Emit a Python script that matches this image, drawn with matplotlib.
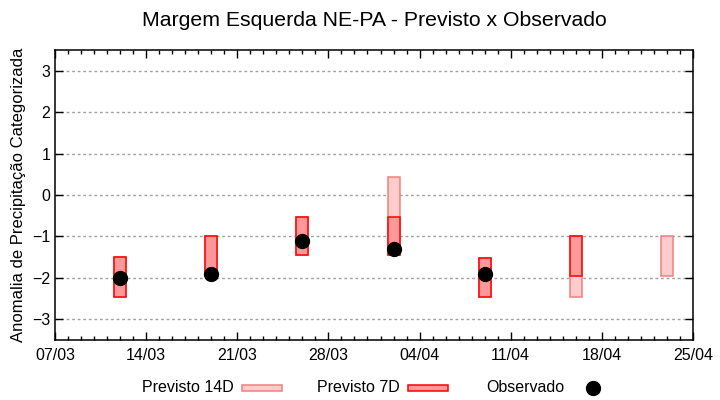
import pandas as pd
import matplotlib
matplotlib.use('Agg')
import matplotlib.pyplot as plt
import matplotlib.dates as mdates
from matplotlib.patches import Rectangle
from matplotlib.lines import Line2D

plt.rcParams['font.family'] = ['Liberation Sans', 'DejaVu Sans']

# datas das previsoes (semanais)
datas = pd.to_datetime(['2021-03-12', '2021-03-19', '2021-03-26', '2021-04-02',
                        '2021-04-09', '2021-04-16', '2021-04-23'])

# faixa prevista 14 dias (topo, base)
prev14_topo = [-1.5, -1.0, -0.52, 0.43, -1.52, -1.0, -1.0]
prev14_base = [-2.45, -1.9, -1.45, -1.45, -2.45, -2.45, -1.96]

# faixa prevista 7 dias (None = sem previsao)
prev7_topo = [-1.5, -1.0, -0.52, -0.52, -1.52, -1.0, None]
prev7_base = [-2.45, -1.9, -1.45, -1.45, -2.45, -1.96, None]

# observado
obs = [-2.0, -1.9, -1.1, -1.3, -1.9, None, None]

x_ini = pd.Timestamp('2021-03-07')
x_fim = pd.Timestamp('2021-04-25')
yticks = [-3, -2, -1, 0, 1, 2, 3]

cor14_fill, cor14_edge = '#ffcccc', '#f08080'
cor7_fill, cor7_edge = '#ff9999', '#ff0000'

fig = plt.figure(figsize=(7.2, 4.0), dpi=100)
ax = fig.add_axes([55 / 720, 1 - 340 / 400, 638 / 720, 290 / 400])

largura = 0.92
xs = mdates.date2num(datas)
for x, t, b in zip(xs, prev14_topo, prev14_base):
    ax.bar(x, t - b, bottom=b, width=largura, color=cor14_fill,
           edgecolor=cor14_edge, linewidth=1.1, zorder=2)
for x, t, b in zip(xs, prev7_topo, prev7_base):
    if t is None:
        continue
    ax.bar(x, t - b, bottom=b, width=largura, color=cor7_fill,
           edgecolor=cor7_edge, linewidth=1.1, zorder=3)
ox = [x for x, o in zip(xs, obs) if o is not None]
oy = [o for o in obs if o is not None]
ax.plot(ox, oy, 'o', color='black', markersize=10, zorder=4, linestyle='none')

ax.set_xlim(mdates.date2num(x_ini), mdates.date2num(x_fim))
ax.set_ylim(-3.5, 3.5)
ax.set_yticks(yticks)
ax.set_xticks(mdates.date2num(pd.date_range(x_ini, x_fim, freq='7D')))
ax.xaxis.set_major_formatter(mdates.DateFormatter('%d/%m'))
ax.xaxis.set_minor_locator(mdates.DayLocator())
ax.yaxis.grid(True, linestyle=(0, (2, 2)), color='#a0a0a0', linewidth=1)
ax.set_axisbelow(True)
ax.tick_params(axis='both', which='both', direction='in', top=True, right=True,
               labelsize=11.5, colors='black')
ax.tick_params(axis='both', which='major', length=6, width=1)
ax.tick_params(axis='x', which='minor', length=3, width=1)
ax.tick_params(axis='x', which='major', pad=6)
for s in ax.spines.values():
    s.set_linewidth(1.1)

ax.set_ylabel('Anomalia de Precipitação Categorizada', fontsize=12, labelpad=4)
fig.text(374 / 720, 1 - 20 / 400, 'Margem Esquerda NE-PA - Previsto x Observado',
         ha='center', va='center', fontsize=15.3)

# legenda manual estilo gnuplot
ly = 1 - 387 / 400
fig.text(142 / 720, ly, 'Previsto 14D', ha='left', va='center', fontsize=11.5)
fig.patches.append(Rectangle((242 / 720, 1 - 391 / 400), 40 / 720, 6 / 400,
                             transform=fig.transFigure, facecolor=cor14_fill,
                             edgecolor=cor14_edge, linewidth=1.1))
fig.text(317 / 720, ly, 'Previsto 7D', ha='left', va='center', fontsize=11.5)
fig.patches.append(Rectangle((408 / 720, 1 - 391 / 400), 40 / 720, 6 / 400,
                             transform=fig.transFigure, facecolor=cor7_fill,
                             edgecolor=cor7_edge, linewidth=1.1))
fig.text(486 / 720, ly, 'Observado', ha='left', va='center', fontsize=11.5)
fig.lines.append(Line2D([593 / 720], [1 - 388 / 400], marker='o', color='black',
                        markersize=10, transform=fig.transFigure))

fig.savefig('out.png', dpi=100)
plt.close(fig)
